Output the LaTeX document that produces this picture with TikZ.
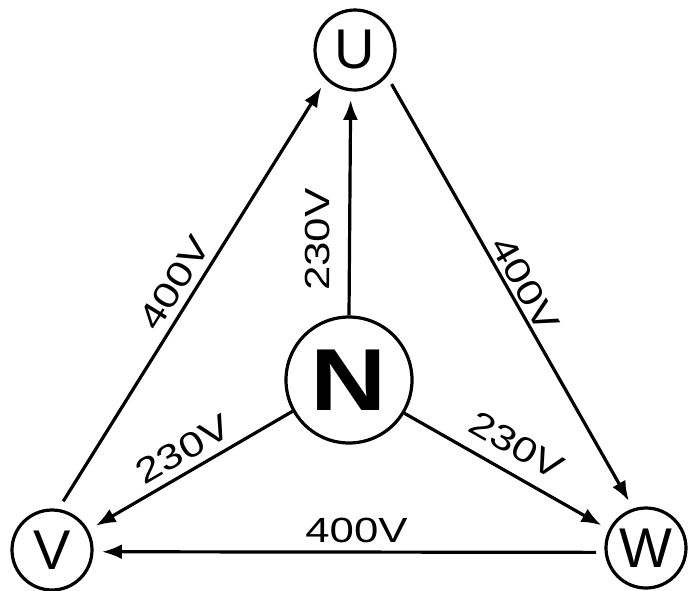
\documentclass[tikz,border=0pt]{standalone}
\usepackage{fontspec}
\setmainfont{Liberation Sans}
\usetikzlibrary{arrows.meta}
\newcommand{\volt}[1]{\scalebox{1.25}[1]{#1}}

\begin{document}
\begin{tikzpicture}[x=0.5pt,y=-0.5pt,
  phase/.style={draw,circle,line width=1.6pt,minimum size=40pt,inner sep=0pt,outer sep=5pt,font=\fontsize{28}{30}\selectfont},
  neutral/.style={draw,circle,line width=1.6pt,minimum size=63pt,inner sep=0pt,font=\fontsize{44}{48}\selectfont\bfseries},
  wire/.style={line width=1.6pt,-{Latex[length=10pt,width=7.5pt]}},
  volt/.style={sloped,inner sep=0pt,font=\fontsize{17.5}{20}\selectfont}]
  \fill[white] (0,0) rectangle (691,590);
  \useasboundingbox (0,0) rectangle (691,590);

  \node[phase] (U) at (355,50) {U};
  \node[phase] (V) at (52,550) {V};
  \node[phase] (W) at (646,548) {W};
  \node[neutral] (N) at (349,380) {\scalebox{1.2}[1]{N}};

  \draw[wire] (V.77) -- (U.228) node[volt,above=3.5pt,midway] {\volt{400V}};
  \draw[wire] (U.317) -- (W.110) node[volt,above=1.5pt,midway] {\volt{400V}};
  \draw[wire] (W.185) -- (V.358) node[volt,above=4pt,pos=0.485] {\volt{400V}};
  \draw[wire] (N.90) -- (U.265) node[volt,above=9pt,pos=0.35] {\volt{230V}};
  \draw[wire] (N.209) -- (V.29) node[volt,above=4pt,midway] {\volt{230V}};
  \draw[wire] (N.329) -- (W.153) node[volt,above=7pt,midway] {\volt{230V}};
\end{tikzpicture}
\end{document}
